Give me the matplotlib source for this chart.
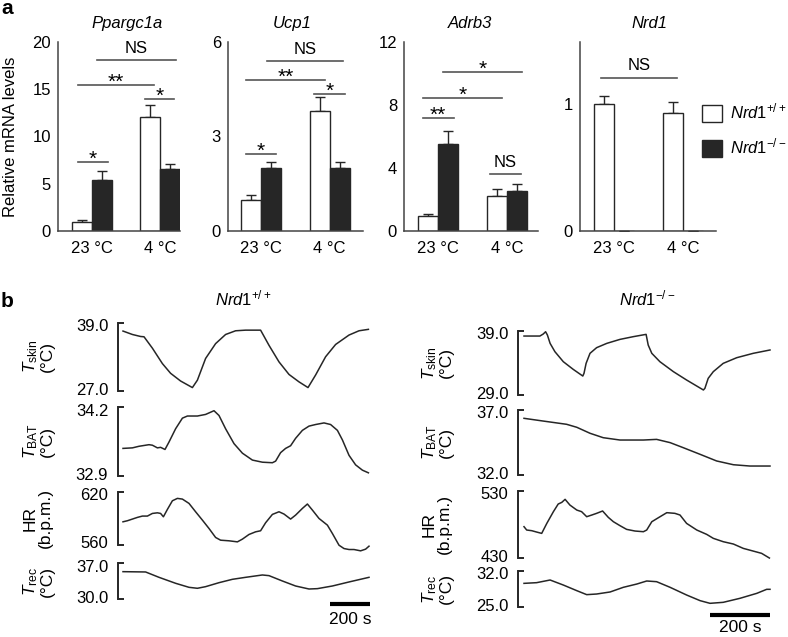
import matplotlib
matplotlib.use('Agg')
import matplotlib.pyplot as plt
from matplotlib.patches import Patch
from matplotlib.transforms import ScaledTranslation
import numpy as np

plt.rcParams['font.family'] = ['Liberation Sans', 'DejaVu Sans']
plt.rcParams['mathtext.fontset'] = 'custom'
plt.rcParams['mathtext.rm'] = 'Liberation Sans'
plt.rcParams['mathtext.it'] = 'Liberation Sans:italic'
plt.rcParams['mathtext.bf'] = 'Liberation Sans:bold'

# ---------------- panel a data ----------------
temps = ['23 °C', '4 °C']
genes = ['Ppargc1a', 'Ucp1', 'Adrb3', 'Nrd1']

ppargc1a_wt = [1.0, 12.1]
ppargc1a_wt_err = [0.15, 1.2]
ppargc1a_ko = [5.4, 6.55]
ppargc1a_ko_err = [0.9, 0.55]

ucp1_wt = [1.0, 3.82]
ucp1_wt_err = [0.15, 0.42]
ucp1_ko = [2.0, 2.0]
ucp1_ko_err = [0.19, 0.19]

adrb3_wt = [0.98, 2.25]
adrb3_wt_err = [0.12, 0.43]
adrb3_ko = [5.54, 2.57]
adrb3_ko_err = [0.83, 0.43]

nrd1_wt = [1.0, 0.93]
nrd1_wt_err = [0.065, 0.085]
nrd1_ko = [0.0, 0.0]
nrd1_ko_err = [0.0, 0.0]

# significance brackets: (x from, x to, height, label)
ppargc1a_sig = [(-0.21, 0.24, 7.3, '*'), (-0.21, 0.91, 15.4, '**'),
                (0.78, 1.21, 14.0, '*'), (0.07, 1.24, 18.1, 'NS')]
ucp1_sig = [(-0.23, 0.22, 2.44, '*'), (-0.23, 0.93, 4.79, '**'),
            (0.77, 1.22, 4.36, '*'), (0.08, 1.2, 5.4, 'NS')]
adrb3_sig = [(-0.22, 0.23, 7.18, '**'), (-0.22, 0.93, 8.45, '*'),
             (0.07, 1.22, 10.1, '*'), (0.75, 1.2, 3.63, 'NS')]
nrd1_sig = [(-0.19, 0.91, 1.21, 'NS')]

# ---------------- panel b data (time in s) ----------------
wt_skin_t = [0, 47, 88, 105, 147, 197, 238, 288, 347, 372, 413, 463, 513, 563, 613, 688,
             730, 780, 830, 880, 925, 963, 1013, 1063, 1130, 1180, 1227]
wt_skin = [37.5, 36.9, 36.55, 36.5, 34.5, 31.8, 30.1, 28.75, 27.6, 28.9, 32.7, 35.3, 36.9,
           37.55, 37.66, 37.66, 35.0, 32.1, 29.9, 28.6, 27.6, 29.8, 33.0, 35.15, 36.8, 37.55, 37.8]

wt_bat_t = [0, 47, 80, 130, 147, 172, 188, 210, 230, 263, 297, 322, 372, 413, 455, 480, 513,
            555, 597, 647, 697, 747, 763, 788, 813, 838, 863, 897, 930, 963, 1005, 1038, 1072,
            1097, 1130, 1163, 1197, 1227]
wt_bat = [33.42, 33.43, 33.46, 33.49, 33.48, 33.43, 33.44, 33.40, 33.54, 33.79, 33.99, 34.03,
          34.03, 34.06, 34.13, 34.04, 33.79, 33.51, 33.33, 33.2, 33.16, 33.15, 33.18, 33.34,
          33.42, 33.47, 33.61, 33.76, 33.84, 33.87, 33.90, 33.87, 33.76, 33.58, 33.29, 33.11,
          33.01, 32.96]

wt_hr_t = [0, 22, 47, 72, 97, 122, 147, 172, 188, 202, 222, 247, 272, 297, 330, 363, 397, 430,
           463, 488, 530, 572, 597, 630, 663, 688, 713, 747, 780, 805, 838, 863, 897, 922, 947,
           980, 1022, 1047, 1080, 1105, 1130, 1155, 1188, 1213, 1230]
wt_hr = [585.8, 587, 588.9, 590.8, 592.3, 592.3, 595.3, 596, 595.3, 591.5, 599.9, 609.7, 612.4,
         611.6, 606.7, 597.2, 587.7, 578.2, 568, 564.9, 564.2, 563, 566.1, 571.4, 574.4, 575.6,
         584.7, 594.2, 597.2, 594.6, 588.9, 593.4, 601, 606, 599.1, 589.6, 582, 572.5, 559.2,
         555.4, 554.3, 554.3, 552.8, 554.7, 558.1]

wt_rec_t = [0, 113, 180, 263, 330, 372, 413, 480, 547, 613, 697, 730, 797, 863, 930, 972,
            1047, 1130, 1230]
wt_rec = [35.36, 35.3, 34.25, 33.08, 32.29, 32.1, 32.42, 33.2, 33.86, 34.25, 34.71, 34.58,
          33.53, 32.55, 31.96, 32.03, 32.55, 33.34, 34.25]

ko_skin_t = [0, 53, 64, 72, 78, 87, 103, 131, 164, 196, 200, 207, 220, 242, 276, 320, 364,
             407, 414, 426, 453, 498, 542, 598, 603, 614, 631, 664, 709, 764, 820]
ko_skin = [38.17, 38.17, 38.48, 38.84, 38.33, 37.03, 35.74, 34.18, 32.99, 31.95, 32.37, 33.92,
           35.48, 36.36, 37.03, 37.65, 38.07, 38.43, 36.77, 35.48, 34.18, 32.63, 31.33, 29.78,
           30.04, 31.59, 32.63, 33.92, 34.8, 35.48, 36.0]

ko_bat_t = [0, 64, 142, 176, 220, 264, 320, 398, 442, 487, 531, 587, 642, 698, 753, 820]
ko_bat = [36.36, 36.15, 35.9, 35.67, 35.21, 34.87, 34.69, 34.69, 34.74, 34.49, 34.1, 33.59,
          33.08, 32.79, 32.69, 32.69]

ko_hr_t = [0, 9, 26, 42, 59, 76, 98, 114, 126, 137, 153, 176, 192, 209, 226, 242, 262, 281, 298,
           320, 342, 370, 398, 409, 426, 448, 476, 503, 520, 542, 576, 609, 631, 664, 698, 731,
           764, 792, 818]
ko_hr = [476.3, 471.3, 470.3, 468.3, 466.3, 481.2, 498.7, 510.1, 512.6, 517.1, 508.6, 501.1,
         498.7, 491.2, 493.7, 496.2, 499.7, 490.2, 483.7, 477.8, 472.3, 469.8, 468.8, 471.3,
         483.7, 489.7, 497.2, 496.2, 493.7, 481.2, 471.3, 464.8, 458.9, 453.9, 450.4, 443.9,
         439.9, 436.5, 429.5]

ko_rec_t = [0, 42, 87, 131, 176, 209, 242, 287, 331, 376, 409, 442, 487, 542, 587, 620, 664,
            720, 776, 809, 820]
ko_rec = [29.58, 29.71, 30.22, 29.26, 28.18, 27.42, 27.54, 27.93, 28.82, 29.45, 30.03, 29.9,
          28.82, 27.35, 26.27, 25.76, 25.95, 26.72, 27.67, 28.44, 28.44]

W, H = 788, 637
INK = '#262626'
AX = '#444444'


def rect(x0, y0, x1, y1):
    return [x0 / W, 1 - y1 / H, (x1 - x0) / W, (y1 - y0) / H]


fig = plt.figure(figsize=(W / 100, H / 100), dpi=100)

# ---------------- panel a ----------------
bw = 0.294
panel_a = [
    (ppargc1a_wt, ppargc1a_wt_err, ppargc1a_ko, ppargc1a_ko_err, ppargc1a_sig,
     (58, 180), (-0.5, 1.294), 20, [0, 5, 10, 15, 20], 127),
    (ucp1_wt, ucp1_wt_err, ucp1_ko, ucp1_ko_err, ucp1_sig,
     (228, 363), (-0.49, 1.49), 6, [0, 3, 6], 292),
    (adrb3_wt, adrb3_wt_err, adrb3_ko, adrb3_ko_err, adrb3_sig,
     (404, 538), (-0.49, 1.45), 12, [0, 4, 8, 12], 470),
    (nrd1_wt, nrd1_wt_err, nrd1_ko, nrd1_ko_err, nrd1_sig,
     (580, 716), (-0.49, 1.48), 1.49, [0, 1], 649),
]

for gene, (wt, wt_err, ko, ko_err, sigs, (x0, x1), xl, ymax, ticks, tx) in zip(genes, panel_a):
    ax = fig.add_axes(rect(x0, 42, x1, 231))
    x = np.arange(len(temps))
    ax.bar(x - bw / 2, wt, bw, color='white', edgecolor=INK, linewidth=1.0, zorder=2)
    ax.bar(x + bw / 2, ko, bw, color=INK, edgecolor=INK, linewidth=1.0, zorder=2)
    ax.errorbar(x - bw / 2, wt, yerr=[np.zeros(len(wt)), wt_err], fmt='none',
                ecolor=INK, elinewidth=1.0, capsize=3.5, capthick=1.0, zorder=1)
    ax.errorbar(x + bw / 2, ko, yerr=[np.zeros(len(ko)), ko_err], fmt='none',
                ecolor=INK, elinewidth=1.0, capsize=3.5, capthick=1.0, zorder=1)
    for xa, xb, yy, lab in sigs:
        ax.plot([xa, xb], [yy, yy], color='#555555', lw=1.2, clip_on=False)
        if lab == 'NS':
            ax.annotate(lab, xy=((xa + xb) / 2, yy), xytext=(0, 3), textcoords='offset points',
                        ha='center', va='bottom', fontsize=12)
        else:
            ax.annotate(lab, xy=((xa + xb) / 2, yy), xytext=(0, -2), textcoords='offset points',
                        ha='center', va='baseline', fontsize=15)
    ax.set_xlim(xl)
    ax.set_ylim(0, ymax)
    ax.set_yticks(ticks)
    ax.set_xticks(x)
    ax.set_xticklabels(temps)
    for s in ['top', 'right']:
        ax.spines[s].set_visible(False)
    for s in ['left', 'bottom']:
        ax.spines[s].set_color(AX)
        ax.spines[s].set_linewidth(1.1)
    ax.tick_params(axis='y', length=0, pad=5, labelsize=12)
    ax.tick_params(axis='x', length=0, pad=7, labelsize=12)
    fig.text(tx / W, 1 - 28 / H, gene, style='italic', ha='center', va='baseline', fontsize=12)

fig.text(11 / W, 1 - 137 / H, 'Relative mRNA levels', rotation=90, ha='center', va='center',
         fontsize=12)
fig.text(1 / W, 1 - 14 / H, 'a', fontweight='bold', fontsize=15, va='baseline')

handles = [Patch(facecolor='white', edgecolor=INK, lw=1.0), Patch(facecolor=INK, edgecolor=INK)]
fig.legend(handles, [r'$\mathit{Nrd1}^{+/+}$', r'$\mathit{Nrd1}^{-/-}$'], loc='upper left',
           bbox_to_anchor=(702 / W, 1 - 102 / H), frameon=False, handlelength=1.2,
           handleheight=1.2, handletextpad=0.5, labelspacing=0.9, borderaxespad=0,
           borderpad=0, fontsize=12)

# ---------------- panel b ----------------
fig.text(1 / W, 1 - 307 / H, 'b', fontweight='bold', fontsize=15, va='baseline')
fig.text(243 / W, 1 - 305 / H, r'$\mathit{Nrd1}^{+/+}$', ha='center', va='baseline', fontsize=12)
fig.text(647 / W, 1 - 305 / H, r'$\mathit{Nrd1}^{-/-}$', ha='center', va='baseline', fontsize=12)

labels_b = [r'$T_{\mathrm{skin}}$' + '\n(°C)', r'$T_{\mathrm{BAT}}$' + '\n(°C)',
            'HR\n(b.p.m.)', r'$T_{\mathrm{rec}}$' + '\n(°C)']

columns = [
    (118, 370, (-25, 1235), 38,
     [(wt_skin_t, wt_skin, 27.0, 39.0, '%.1f', 322.5, 391),
      (wt_bat_t, wt_bat, 32.9, 34.2, '%.1f', 407, 476),
      (wt_hr_t, wt_hr, 560, 620, '%d', 491.7, 544.5),
      (wt_rec_t, wt_rec, 30.0, 37.0, '%.1f', 563.3, 599)], 604, 619),
    (518, 770, (-20, 820), 437,
     [(ko_skin_t, ko_skin, 29.0, 39.0, '%.1f', 330.7, 395),
      (ko_bat_t, ko_bat, 32.0, 37.0, '%.1f', 410, 475),
      (ko_hr_t, ko_hr, 430, 530, '%d', 490.7, 557.7),
      (ko_rec_t, ko_rec, 25.0, 32.0, '%.1f', 570.7, 607.3)], 614.5, 627),
]

# nudge bracket labels slightly inward, as in the original
shift_down = ScaledTranslation(0, -2.5 / 100, fig.dpi_scale_trans)
shift_up = ScaledTranslation(0, 2 / 100, fig.dpi_scale_trans)

for x0, x1, xl, lx, rows, bar_y, bar_text_y in columns:
    for (t, v, lo, hi, fmt, y0, y1), lab in zip(rows, labels_b):
        ax = fig.add_axes(rect(x0, y0, x1, y1))
        ax.patch.set_visible(False)
        ax.plot(t, v, color=INK, lw=1.1, clip_on=False)
        ax.set_xlim(xl)
        ax.set_ylim(lo, hi)
        for s in ['top', 'right', 'bottom']:
            ax.spines[s].set_visible(False)
        ax.spines['left'].set_linewidth(1.4)
        ax.spines['left'].set_color(INK)
        ax.set_xticks([])
        ax.set_yticks([lo, hi])
        ax.set_yticklabels([fmt % lo, fmt % hi])
        ax.tick_params(axis='y', direction='in', length=4, width=1.4, pad=7, labelsize=12,
                       color=INK)
        tl = ax.get_yticklabels()
        tl[0].set_transform(tl[0].get_transform() + shift_up)
        tl[1].set_transform(tl[1].get_transform() + shift_down)
        fig.text(lx / W, 1 - (y0 + y1) / 2 / H, lab, rotation=90, ha='center', va='center',
                 multialignment='center', fontsize=12.5, linespacing=1.0)
    # 200 s scale bar under the last trace of the column
    bar_val = lo - (bar_y - y1) / (y1 - y0) * (hi - lo)
    ax.plot([xl[1] - 200, xl[1]], [bar_val, bar_val], color='black', lw=3,
            solid_capstyle='butt', clip_on=False)
    text_x = x1 - 100 / (xl[1] - xl[0]) * (x1 - x0)
    fig.text(text_x / W, 1 - bar_text_y / H, '200 s', ha='center', va='center', fontsize=12.5)

fig.savefig('out.png', dpi=100)
